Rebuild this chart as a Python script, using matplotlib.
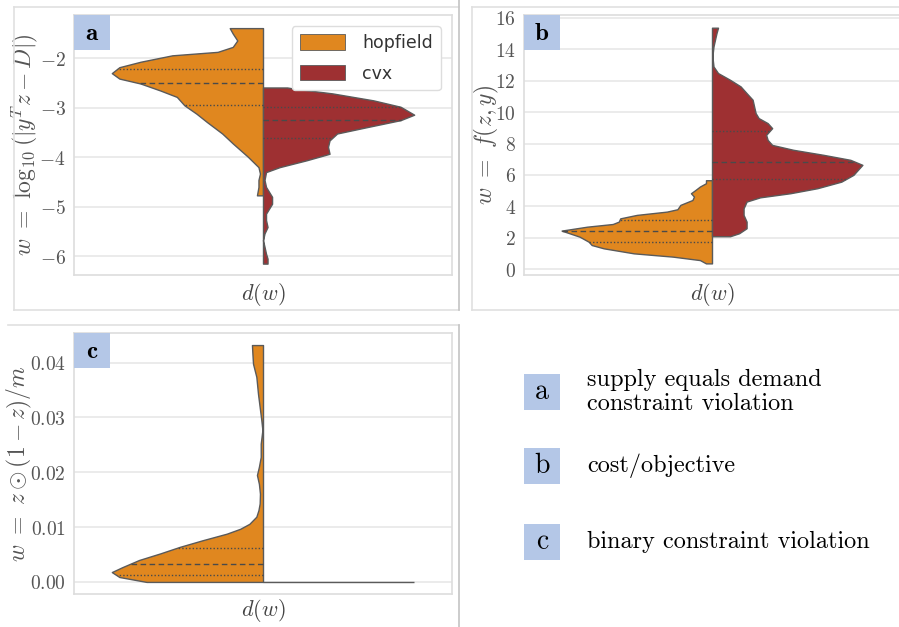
import numpy as np
import matplotlib
matplotlib.use("Agg")
import matplotlib.pyplot as plt
from matplotlib.patches import Patch, Rectangle
from matplotlib.lines import Line2D
from matplotlib.ticker import FuncFormatter

plt.rcParams["mathtext.fontset"] = "cm"

# density profiles (w value, relative half width)
a_hop_w = [-4.77, -4.60, -4.46, -4.33, -4.20, -3.99, -3.72, -3.52, -3.29, -3.12, -2.95, -2.78,
           -2.65, -2.51, -2.41, -2.30, -2.18, -2.07, -1.94, -1.87, -1.77, -1.64, -1.50, -1.39]
a_hop_d = [0.04, 0.03, 0.03, 0.02, 0.03, 0.10, 0.20, 0.27, 0.37, 0.44, 0.52, 0.57,
           0.68, 0.81, 0.95, 1.00, 0.95, 0.81, 0.60, 0.30, 0.20, 0.17, 0.20, 0.22]
a_cvx_w = [-6.15, -6.05, -5.95, -5.81, -5.68, -5.54, -5.41, -5.27, -5.14, -4.94, -4.80, -4.60,
           -4.46, -4.30, -4.20, -4.06, -3.93, -3.79, -3.66, -3.52, -3.39, -3.25, -3.14, -2.98,
           -2.85, -2.71, -2.61, -2.59]
a_cvx_d = [0.03, 0.03, 0.02, 0.01, 0.00, 0.01, 0.03, 0.02, 0.02, 0.06, 0.06, 0.02,
           0.01, 0.02, 0.11, 0.29, 0.44, 0.43, 0.44, 0.49, 0.69, 0.91, 1.00, 0.91,
           0.73, 0.46, 0.20, 0.16]
a_hop_q = [-2.95, -2.50, -2.21]
a_cvx_q = [-3.62, -3.25, -2.99]

b_hop_w = [0.36, 0.57, 0.79, 1.00, 1.32, 1.53, 1.74, 2.06, 2.45, 2.70, 2.87, 3.02, 3.23, 3.45,
           3.66, 3.81, 4.09, 4.40, 4.62, 4.83, 5.04, 5.26, 5.47, 5.66]
b_hop_d = [0.04, 0.08, 0.26, 0.52, 0.72, 0.80, 0.82, 0.88, 1.00, 0.83, 0.66, 0.62, 0.61, 0.50,
           0.30, 0.23, 0.21, 0.13, 0.12, 0.14, 0.11, 0.08, 0.04, 0.04]
b_cvx_w = [2.09, 2.28, 2.60, 3.02, 3.45, 3.87, 4.30, 4.57, 4.83, 5.15, 5.57, 6.00, 6.64, 6.96,
           7.28, 7.60, 7.91, 8.23, 8.55, 8.98, 9.30, 9.62, 9.94, 10.36, 10.79, 11.21, 11.64,
           12.06, 12.49, 12.91, 13.34, 13.77, 14.19, 14.62, 15.04, 15.38]
b_cvx_d = [0.12, 0.18, 0.23, 0.23, 0.21, 0.21, 0.23, 0.32, 0.52, 0.70, 0.86, 0.94, 1.00, 0.92,
           0.74, 0.54, 0.40, 0.37, 0.36, 0.40, 0.37, 0.31, 0.29, 0.28, 0.27, 0.23, 0.19,
           0.12, 0.04, 0.01, 0.005, 0.005, 0.01, 0.02, 0.03, 0.04]
b_hop_q = [1.70, 2.45, 3.13]
b_cvx_q = [5.74, 6.85, 8.77]

c_hop_w = [0.0, 0.0009, 0.0018, 0.0027, 0.0040, 0.0052, 0.0064, 0.0076, 0.0088, 0.0097,
           0.0106, 0.0119, 0.0131, 0.0143, 0.0161, 0.0179, 0.0195, 0.0210, 0.0228, 0.0252,
           0.0277, 0.0295, 0.0319, 0.0343, 0.0374, 0.0398, 0.0416, 0.0432]
c_hop_d = [0.77, 0.95, 1.00, 0.93, 0.82, 0.68, 0.55, 0.40, 0.24, 0.15,
           0.09, 0.044, 0.03, 0.022, 0.02, 0.027, 0.04, 0.027, 0.015, 0.015,
           0.004, 0.011, 0.022, 0.033, 0.044, 0.066, 0.07, 0.073]
c_cvx_w = [0.0, 0.0]
c_cvx_d = [1.0, 1.0]
c_hop_q = [0.0012, 0.0032, 0.0062]

hop_col = "#e0871f"
cvx_col = "#9e3032"
edge = "#5a5a5a"
W, H = 899, 627


def half_violin(ax, w, d, side, color, q=None):
    w = np.array(w)
    d = np.array(d) * 0.4 * side
    ax.fill_betweenx(w, 0, d, facecolor=color, edgecolor=edge, lw=1.0, zorder=2)
    if q is not None:
        for i, v in enumerate(q):
            x = np.interp(v, w, d)
            ls = (0, (4, 2.5)) if i == 1 else (0, (1, 1.5))
            ax.plot([0, x], [v, v], color="#4a4a4a", lw=1.0, ls=ls, zorder=3)


def make_ax(x0, y0, x1, y1, fmt, lab_x):
    ax = fig.add_axes([x0 / W, 1 - y1 / H, (x1 - x0) / W, (y1 - y0) / H])
    ax.set_xlim(-0.5, 0.5)
    ax.set_xticks([])
    ax.grid(axis="y", color="#e8e8e8", lw=1.2)
    ax.set_axisbelow(True)
    for s in ax.spines.values():
        s.set_color("#dddddd")
        s.set_linewidth(1.2)
    ax.yaxis.set_major_formatter(FuncFormatter(lambda v, p: "$" + fmt % v + "$"))
    ax.tick_params(axis="y", length=0, labelsize=14, labelcolor="#555555", pad=6)
    ax.set_xlabel(r"$d(w)$", fontsize=16, color="#444444", labelpad=4)
    ax.yaxis.set_label_coords((lab_x - x0) / (x1 - x0), 0.5)
    return ax


def tag(ax, s):
    ax.add_patch(Rectangle((0, 1 - 35 / 260), 36 / 378, 35 / 260, transform=ax.transAxes,
                           facecolor="#b4c7e7", edgecolor="none", zorder=5, clip_on=False))
    ax.text(18 / 378, 1 - 17.5 / 260, r"$\mathbf{%s}$" % s, transform=ax.transAxes,
            ha="center", va="center", fontsize=18, zorder=6)


fig = plt.figure(figsize=(W / 100, H / 100), dpi=100)

# panel frames
def fline(xs, ys, c="#e0e0e0"):
    fig.add_artist(Line2D([x / W for x in xs], [1 - y / H for y in ys], color=c, lw=1.2))

fline([14, 459], [7, 7]); fline([14, 14], [7, 310]); fline([14, 459], [310, 310])
fline([459, 459], [0, 310], "#c4c4c4")
fline([472, 899], [7, 7]); fline([472, 472], [7, 310]); fline([472, 899], [310, 310])
fline([8, 459], [325, 325]); fline([459, 459], [325, 627], "#c4c4c4")

# a
ax = make_ax(74, 15, 452, 275, "%g", 41)
half_violin(ax, a_hop_w, a_hop_d, -1, hop_col, a_hop_q)
half_violin(ax, a_cvx_w, a_cvx_d, 1, cvx_col, a_cvx_q)
ax.set_ylim(-6.38, -1.125)
ax.set_yticks([-6, -5, -4, -3, -2])
ax.set_ylabel(r"$w\ =\ \log_{10}(|y^T z - D|)$", fontsize=17, color="#555555")
tag(ax, "a")
leg = ax.legend(handles=[Patch(facecolor=hop_col, edgecolor=edge, lw=0.6, label="hopfield"),
                         Patch(facecolor=cvx_col, edgecolor=edge, lw=0.6, label="cvx")],
                loc="upper right", fontsize=12.5, handlelength=2.6, handleheight=1.0,
                borderaxespad=0.65, borderpad=0.45, labelspacing=0.72, handletextpad=1.0,
                labelcolor="#333333", framealpha=1, edgecolor="#dddddd", fancybox=True)

# b
ax = make_ax(524, 15, 900, 275, "%g", 501)
half_violin(ax, b_hop_w, b_hop_d, -1, hop_col, b_hop_q)
half_violin(ax, b_cvx_w, b_cvx_d, 1, cvx_col, b_cvx_q)
ax.set_ylim(-0.38, 16.19)
ax.set_yticks(range(0, 17, 2))
ax.set_ylabel(r"$w\ =\ f(z, y)$", fontsize=17, color="#555555")
tag(ax, "b")

# c
ax = make_ax(74, 333, 452, 594, "%.2f", 34)
half_violin(ax, c_hop_w, c_hop_d, -1, hop_col, c_hop_q)
half_violin(ax, c_cvx_w, c_cvx_d, 1, cvx_col)
ax.set_ylim(-0.0022, 0.0454)
ax.set_yticks([0, 0.01, 0.02, 0.03, 0.04])
ax.set_ylabel(r"$w\ =\ z \odot (1 - z)/m$", fontsize=17, color="#555555")
ax.xaxis.labelpad = 2
tag(ax, "c")

# key
keys = ["a", "b", "c"]
key_text = ["supply equals demand\nconstraint violation", "cost/objective",
            "binary constraint violation"]
key_y = [392, 465.5, 542]
for k, t, yc in zip(keys, key_text, key_y):
    fig.add_artist(Rectangle((524 / W, 1 - (yc + 18) / H), 36 / W, 36 / H,
                             facecolor="#b4c7e7", edgecolor="none"))
    fig.text(542 / W, 1 - yc / H, k, family="cmr10", fontsize=20, ha="center", va="center")
    fig.text(587 / W, 1 - yc / H, t, family="cmr10", fontsize=17.5, ha="left", va="center",
             linespacing=1.15)

fig.savefig("out.png", dpi=100)
